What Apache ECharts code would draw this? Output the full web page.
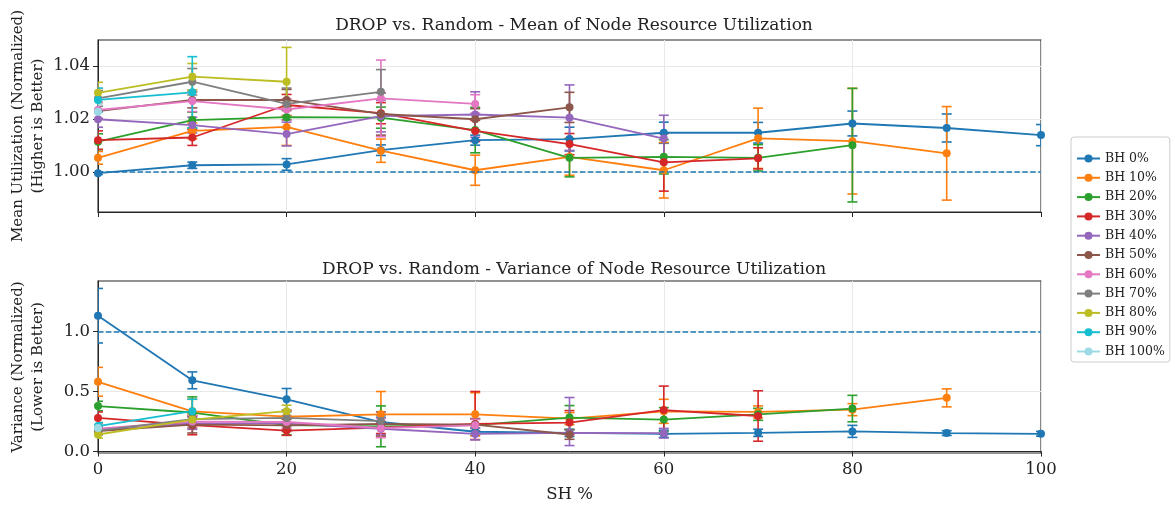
<!DOCTYPE html>
<html>
<head>
<meta charset="utf-8">
<script src="https://cdn.jsdelivr.net/npm/echarts@6/dist/echarts.min.js"></script>
<style>
html,body{margin:0;padding:0;background:#fff;}
#chart{width:1175px;height:508px;}
</style>
</head>
<body>
<div id="chart"></div>
<script>
// ---- data ----
const shPercent = [0, 10, 20, 30, 40, 50, 60, 70, 80, 90, 100];
const bhNames = ['BH 0%', 'BH 10%', 'BH 20%', 'BH 30%', 'BH 40%', 'BH 50%', 'BH 60%', 'BH 70%', 'BH 80%', 'BH 90%', 'BH 100%'];
const colors = ['#1f77b4', '#ff7f0e', '#2ca02c', '#d62728', '#9467bd', '#8c564b', '#e377c2', '#7f7f7f', '#bcbd22', '#17becf', '#9edae5'];

// Mean utilization (normalized)
const meanBH0   = [0.9995, 1.0025, 1.0028, 1.0082, 1.0120, 1.0124, 1.0148, 1.0148, 1.0183, 1.0166, 1.0139];
const meanBH10  = [1.0053, 1.0155, 1.0170, 1.0080, 1.0006, 1.0057, 1.0006, 1.0127, 1.0116, 1.0070];
const meanBH20  = [1.0114, 1.0196, 1.0207, 1.0205, 1.0158, 1.0053, 1.0057, 1.0053, 1.0101];
const meanBH30  = [1.0120, 1.0130, 1.0253, 1.0222, 1.0155, 1.0105, 1.0036, 1.0051];
const meanBH40  = [1.0199, 1.0177, 1.0143, 1.0211, 1.0217, 1.0205, 1.0126];
const meanBH50  = [1.0230, 1.0272, 1.0272, 1.0219, 1.0199, 1.0244];
const meanBH60  = [1.0234, 1.0268, 1.0236, 1.0278, 1.0257];
const meanBH70  = [1.0278, 1.0341, 1.0257, 1.0303];
const meanBH80  = [1.0299, 1.0360, 1.0341];
const meanBH90  = [1.0272, 1.0301];
const meanBH100 = [1.0227];

const meanErrBH0   = [0.0005, 0.0012, 0.0022, 0.0020, 0.0019, 0.0045, 0.0040, 0.0039, 0.0047, 0.0053, 0.0040];
const meanErrBH10  = [0.0024, 0.0030, 0.0070, 0.0044, 0.0057, 0.0070, 0.0105, 0.0114, 0.0200, 0.0177];
const meanErrBH20  = [0.0030, 0.0030, 0.0040, 0.0040, 0.0086, 0.0072, 0.0065, 0.0050, 0.0215];
const meanErrBH30  = [0.0035, 0.0030, 0.0040, 0.0040, 0.0040, 0.0040, 0.0109, 0.0040];
const meanErrBH40  = [0.0030, 0.0030, 0.0045, 0.0060, 0.0086, 0.0124, 0.0088];
const meanErrBH50  = [0.0030, 0.0030, 0.0040, 0.0080, 0.0040, 0.0057];
const meanErrBH60  = [0.0030, 0.0040, 0.0040, 0.0145, 0.0035];
const meanErrBH70  = [0.0030, 0.0050, 0.0060, 0.0084];
const meanErrBH80  = [0.0040, 0.0050, 0.0130];
const meanErrBH90  = [0.0045, 0.0135];
const meanErrBH100 = [0.0030];

// Variance of utilization (normalized)
const varBH0   = [1.131, 0.593, 0.435, 0.246, 0.165, 0.155, 0.148, 0.156, 0.168, 0.154, 0.148];
const varBH10  = [0.581, 0.335, 0.290, 0.310, 0.310, 0.274, 0.335, 0.330, 0.349, 0.447];
const varBH20  = [0.379, 0.325, 0.220, 0.210, 0.220, 0.283, 0.266, 0.310, 0.358];
const varBH30  = [0.280, 0.220, 0.175, 0.200, 0.230, 0.241, 0.345, 0.296];
const varBH40  = [0.175, 0.235, 0.235, 0.190, 0.147, 0.155, 0.153];
const varBH50  = [0.170, 0.225, 0.218, 0.230, 0.225, 0.142];
const varBH60  = [0.190, 0.250, 0.246, 0.196, 0.218];
const varBH70  = [0.175, 0.270, 0.280, 0.254];
const varBH80  = [0.142, 0.266, 0.336];
const varBH90  = [0.212, 0.336];
const varBH100 = [0.196];

// error: a number (symmetric) or [below, above]
const varErrBH0   = [0.227, 0.070, 0.090, 0.040, 0.030, 0.030, 0.030, 0.030, 0.050, 0.020, 0.020];
const varErrBH10  = [0.120, 0.100, 0.050, 0.190, 0.180, 0.050, 0.100, 0.050, 0.050, 0.075];
const varErrBH20  = [0.040, 0.130, 0.080, 0.170, 0.050, 0.100, 0.100, 0.050, 0.110];
const varErrBH30  = [0.050, 0.080, 0.040, 0.050, [0.130, 0.270], 0.100, 0.200, 0.210];
const varErrBH40  = [0.030, 0.050, 0.050, 0.050, 0.050, [0.105, 0.295], 0.040];
const varErrBH50  = [0.030, 0.070, 0.050, 0.100, 0.050, 0.040];
const varErrBH60  = [0.030, 0.050, 0.050, 0.080, 0.050];
const varErrBH70  = [0.030, 0.050, 0.050, 0.050];
const varErrBH80  = [0.030, 0.050, 0.050];
const varErrBH90  = [0.030, 0.100];
const varErrBH100 = [0.030];

const meanTicks = [1.00, 1.02, 1.04];
const varTicks = [0.0, 0.5, 1.0];
const xTicks = [0, 20, 40, 60, 80, 100];

const meanAll = [meanBH0, meanBH10, meanBH20, meanBH30, meanBH40, meanBH50, meanBH60, meanBH70, meanBH80, meanBH90, meanBH100];
const meanErrAll = [meanErrBH0, meanErrBH10, meanErrBH20, meanErrBH30, meanErrBH40, meanErrBH50, meanErrBH60, meanErrBH70, meanErrBH80, meanErrBH90, meanErrBH100];
const varAll = [varBH0, varBH10, varBH20, varBH30, varBH40, varBH50, varBH60, varBH70, varBH80, varBH90, varBH100];
const varErrAll = [varErrBH0, varErrBH10, varErrBH20, varErrBH30, varErrBH40, varErrBH50, varErrBH60, varErrBH70, varErrBH80, varErrBH90, varErrBH100];

// ---- chart ----
const FONT = 'DejaVu Serif';
const chart = echarts.init(document.getElementById('chart'), null, {renderer: 'canvas'});

function errRender(params, api) {
  const x = api.value(0), y = api.value(1), lo = api.value(2), up = api.value(3);
  const pHi = api.coord([x, y + up]);
  const pLo = api.coord([x, y - lo]);
  const cw = 5;
  const style = {stroke: api.visual('color'), lineWidth: 1.6};
  return {
    type: 'group',
    children: [
      {type: 'line', shape: {x1: pHi[0], y1: pHi[1], x2: pLo[0], y2: pLo[1]}, style: style},
      {type: 'line', shape: {x1: pHi[0] - cw, y1: pHi[1], x2: pHi[0] + cw, y2: pHi[1]}, style: style},
      {type: 'line', shape: {x1: pLo[0] - cw, y1: pLo[1], x2: pLo[0] + cw, y2: pLo[1]}, style: style}
    ]
  };
}

const series = [];
function addPanel(vals, errs, gi) {
  bhNames.forEach((name, i) => {
    const v = vals[i], e = errs[i];
    series.push({
      type: 'custom',
      name: name + (gi === 0 ? ' errM' : ' errV'),
      xAxisIndex: gi, yAxisIndex: gi,
      renderItem: errRender,
      clip: true,
      itemStyle: {color: colors[i]},
      encode: {x: 0, y: 1},
      data: v.map((y, k) => {
        const ek = e[k];
        const lo = Array.isArray(ek) ? ek[0] : ek;
        const up = Array.isArray(ek) ? ek[1] : ek;
        return [shPercent[k], y, lo, up];
      }),
      silent: true,
      z: 2
    });
    const s = {
      type: 'line',
      name: name,
      xAxisIndex: gi, yAxisIndex: gi,
      data: v.map((y, k) => [shPercent[k], y]),
      symbol: 'circle',
      symbolSize: 8,
      showSymbol: true,
      lineStyle: {width: 1.8, color: colors[i]},
      itemStyle: {color: colors[i]},
      z: 2,
      animation: false
    };
    if (i === 0) {
      s.markLine = {
        silent: true,
        symbol: ['none', 'none'],
        label: {show: false},
        lineStyle: {type: [5.5, 2.4], color: colors[0], width: 1.5},
        data: [{yAxis: 1}]
      };
    }
    series.push(s);
  });
}
addPanel(meanAll, meanErrAll, 0);
addPanel(varAll, varErrAll, 1);

const gridStyle = {show: true, borderColor: '#262626', borderWidth: 1.1, backgroundColor: 'transparent',
                   containLabel: false, outerBoundsMode: 'none'};
const splitStyle = {show: true, lineStyle: {color: '#e8e8e8', width: 1}};
const labelFont = {fontFamily: FONT, fontSize: 16.5, color: '#222'};

const option = {
  animation: false,
  backgroundColor: '#fff',
  color: colors,
  title: [
    {text: 'DROP vs. Random - Mean of Node Resource Utilization', left: 569, top: 12, textAlign: 'center',
     textStyle: {fontFamily: FONT, fontSize: 17, fontWeight: 'normal', color: '#222'}},
    {text: 'DROP vs. Random - Variance of Node Resource Utilization', left: 569, top: 256, textAlign: 'center',
     textStyle: {fontFamily: FONT, fontSize: 17, fontWeight: 'normal', color: '#222'}}
  ],
  grid: [
    Object.assign({left: 98, top: 40, width: 943, height: 172}, gridStyle),
    Object.assign({left: 98, top: 281, width: 943, height: 172}, gridStyle)
  ],
  xAxis: [
    {type: 'value', gridIndex: 0, min: 0, max: 100, interval: 20,
     axisLine: {show: true, lineStyle: {color: '#262626'}},
     axisTick: {show: true, length: 5, lineStyle: {color: '#262626'}},
     axisLabel: {show: false},
     splitLine: splitStyle},
    {type: 'value', gridIndex: 1, min: 0, max: 100, interval: 20,
     name: 'SH %', nameLocation: 'middle', nameGap: 33,
     nameTextStyle: labelFont,
     axisLine: {show: true, lineStyle: {color: '#262626'}},
     axisTick: {show: true, length: 5, lineStyle: {color: '#262626'}},
     axisLabel: Object.assign({margin: 8, customValues: xTicks}, labelFont),
     splitLine: splitStyle}
  ],
  yAxis: [
    {type: 'value', gridIndex: 0, min: 0.9848, max: 1.0499,
     name: 'Mean Utilization (Normalized)\n(Higher is Better)', nameLocation: 'middle', nameGap: 50, nameRotate: 90,
     nameMoveOverlap: false,
     nameTextStyle: Object.assign({lineHeight: 20}, labelFont, {fontSize: 15}),
     axisLine: {show: true, lineStyle: {color: '#262626'}},
     axisTick: {show: true, length: 5, lineStyle: {color: '#262626'}, customValues: meanTicks},
     axisLabel: Object.assign({margin: 8, customValues: meanTicks, formatter: v => v.toFixed(2)}, labelFont),
     splitLine: splitStyle},
    {type: 'value', gridIndex: 1, min: -0.012, max: 1.42,
     name: 'Variance (Normalized)\n(Lower is Better)', nameLocation: 'middle', nameGap: 50, nameRotate: 90,
     nameMoveOverlap: false,
     nameTextStyle: Object.assign({lineHeight: 20}, labelFont, {fontSize: 15}),
     axisLine: {show: true, lineStyle: {color: '#262626'}},
     axisTick: {show: true, length: 5, lineStyle: {color: '#262626'}, customValues: varTicks},
     axisLabel: Object.assign({margin: 8, customValues: varTicks, formatter: v => v.toFixed(1)}, labelFont),
     splitLine: splitStyle}
  ],
  legend: {
    orient: 'vertical',
    left: 1071, top: 137,
    padding: [15, 5, 4, 5],
    itemWidth: 23, itemHeight: 10, itemGap: 6.3,
    borderColor: '#cccccc', borderWidth: 1, borderRadius: 3,
    backgroundColor: '#fff',
    textStyle: {fontFamily: FONT, fontSize: 12.5, color: '#222'},
    data: bhNames
  },
  graphic: [
    {type: 'text', left: 1104, top: 139, style: {text: 'BH %', font: '12.5px "DejaVu Serif"', fill: '#222'}}
  ],
  series: series
};
chart.setOption(option);
</script>
</body>
</html>
